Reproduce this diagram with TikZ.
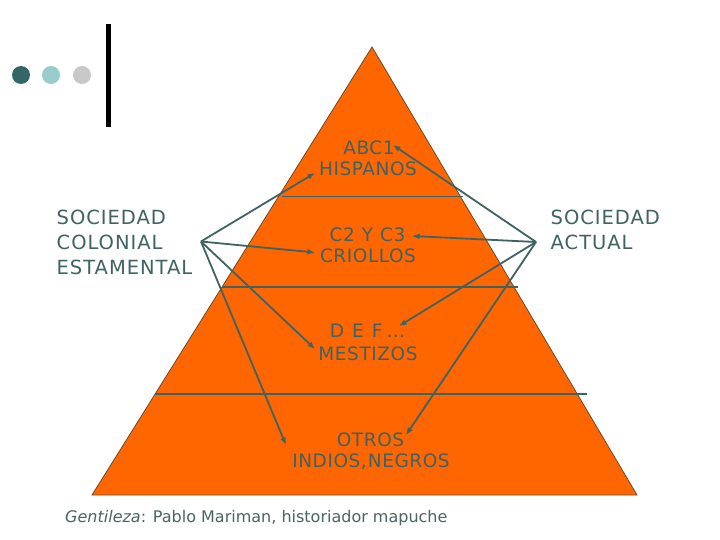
\documentclass[tikz,border=0pt]{standalone}
\usepackage{fontspec}
\setmainfont{DejaVu Sans}
\newfontfamily\bigfont[LetterSpace=5]{DejaVu Sans}
\newfontfamily\pyrfont[LetterSpace=3]{DejaVu Sans}
\usetikzlibrary{arrows.meta}
\definecolor{dotA}{HTML}{336666}
\definecolor{dotB}{HTML}{99CCCC}
\definecolor{dotC}{HTML}{C8C8C8}
\definecolor{pyr}{HTML}{FF6600}
\definecolor{pyredge}{HTML}{6B4A2A}
\definecolor{ink}{HTML}{3F6262}
\definecolor{footc}{HTML}{4A6464}
\tikzset{
  tier/.style={draw=ink, line width=1.1pt},
  bigtxt/.style={text=ink, inner sep=0pt, anchor=base west, font=\bigfont\fontsize{19.5}{24}\selectfont},
  pyrtxt/.style={text=ink, inner sep=0pt, anchor=base, font=\pyrfont\fontsize{18.5}{22}\selectfont},
  link/.style={draw=ink, line width=1.8pt, -{Latex[length=7.5pt,width=6pt]}},
}
\begin{document}
\begin{tikzpicture}[x=1pt,y=-1pt]
\useasboundingbox (0,0) rectangle (720,540);
\fill[white] (0,0) rectangle (720,540);
% decoration
\fill[dotA] (21,75) circle (9);
\fill[dotB] (51,75) circle (9);
\fill[dotC] (82,75) circle (9);
\fill[black] (106.3,24) rectangle (110.5,127);
% pyramid
\filldraw[fill=pyr, draw=pyredge, line width=0.8pt] (372,47) -- (637,495) -- (92,495) -- cycle;
\draw[tier] (282,196.5) -- (463,196.5);
\draw[tier] (222,287) -- (518,287);
\draw[tier] (155,394) -- (587,394);
% labels in pyramid
\node[pyrtxt] (abc) at (369,155) {ABC1};
\node[pyrtxt] (hisp) at (368,176) {HISPANOS};
\node[pyrtxt] (c2c3) at (367.5,241.5) {C2\hspace{7pt}Y\hspace{7pt}C3};
\node[pyrtxt] (crio) at (368,262) {CRIOLLOS};
\node[pyrtxt] (def) at (367.5,337) {D\hspace{8pt}E\hspace{8pt}F\hspace{4pt}…};
\node[pyrtxt] (mest) at (368,360) {MESTIZOS};
\node[pyrtxt] (otros) at (370.5,446.5) {OTROS};
\node[pyrtxt] (indios) at (371,467) {INDIOS,\hspace{1pt}NEGROS};
% side labels
\node[bigtxt] (sc1) at (56.5,225) {SOCIEDAD};
\node[bigtxt] (sc2) at (56.5,249.5) {COLONIAL};
\node[bigtxt] (sc3) at (56.5,274) {ESTAMENTAL};
\node[bigtxt] (sa1) at (550.5,225) {SOCIEDAD};
\node[bigtxt] (sa2) at (550.5,249.5) {ACTUAL};
% hubs and arrow tips
\coordinate (L) at (201,241.5);
\coordinate (R) at (536,242);
\coordinate (Lh) at (315,173);
\coordinate (Lc) at (315,252.5);
\coordinate (Lm) at (315,349);
\coordinate (Lo) at (286,445);
\coordinate (Ra) at (393,145);
\coordinate (Rc) at (412,236);
\coordinate (Rd) at (399,326);
\coordinate (Ro) at (406,435);
\draw[link] (L) -- (Lh);
\draw[link] (L) -- (Lc);
\draw[link] (L) -- (Lm);
\draw[link] (L) -- (Lo);
\draw[link] (R) -- (Ra);
\draw[link] (R) -- (Rc);
\draw[link] (R) -- (Rd);
\draw[link] (R) -- (Ro);
% footer
\node[text=footc, inner sep=0pt, anchor=base west, font=\fontsize{16}{18}\selectfont] (foot) at (65,522) {\textit{Gentileza}: Pablo Mariman, historiador mapuche};
\end{tikzpicture}
\end{document}
